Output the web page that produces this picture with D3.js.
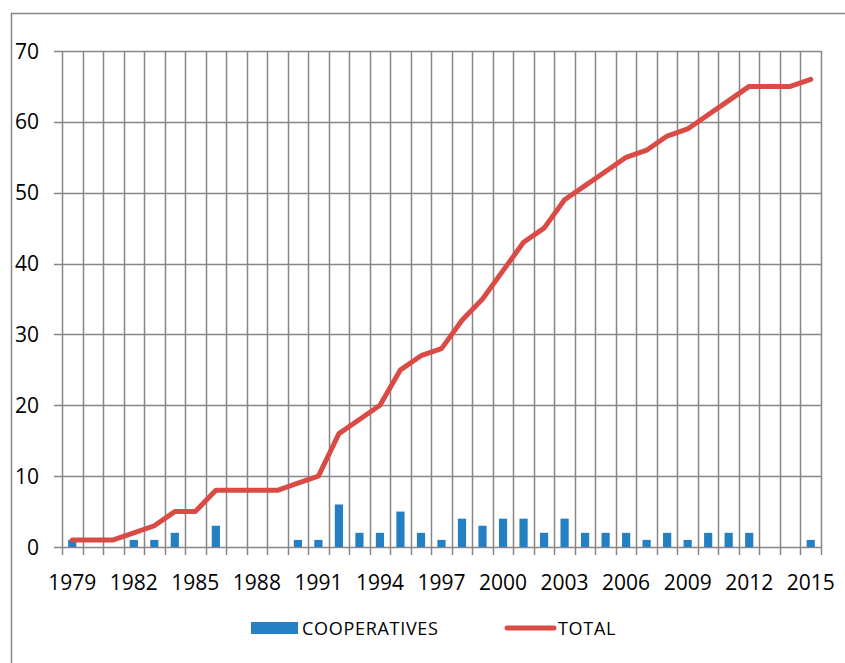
<!DOCTYPE html>
<html>
<head>
<meta charset="utf-8">
<script src="https://cdn.jsdelivr.net/npm/d3@7"></script>
<style>
  body { margin: 0; background: #fff; }
  svg { display: block; font-family: "Open Sans", Lato, sans-serif; }
</style>
</head>
<body>
<svg id="chart" width="845" height="663"></svg>
<script>
// ======================
// Dades
// ======================
const years = d3.range(1979, 2016).map(String);
const cooperatives = [1, 0, 0, 1, 1, 2, 0, 3, 0, 0, 0, 1, 1, 6, 2, 2, 5, 2, 1, 4, 3, 4, 4, 2, 4, 2, 2, 2, 1, 2, 1, 2, 2, 2, 0, 0, 1];
const total = [1, 1, 1, 2, 3, 5, 5, 8, 8, 8, 8, 9, 10, 16, 18, 20, 25, 27, 28, 32, 35, 39, 43, 45, 49, 51, 53, 55, 56, 58, 59, 61, 63, 65, 65, 65, 66];
const yTicks = [0, 10, 20, 30, 40, 50, 60, 70];
const xTickLabels = years.filter((d, i) => i % 3 === 0);

const blue = "#2580c3";
const red = "#db4b45";
const grid = "#868686";

const svg = d3.select("#chart");

// marc exterior
svg.append("rect")
  .attr("x", 11.5)
  .attr("y", 13.5)
  .attr("width", 900)
  .attr("height", 700)
  .attr("fill", "white")
  .attr("stroke", grid)
  .attr("stroke-width", 1.5);

const plotLeft = 62, plotRight = 821, plotTop = 51, plotBottom = 547;

const x = d3.scaleBand()
  .domain(years)
  .range([plotLeft, plotRight])
  .paddingInner(0)
  .paddingOuter(0);

const y = d3.scaleLinear()
  .domain([0, 70])
  .range([plotBottom, plotTop]);

// =========================
// Graella
// =========================
svg.append("g")
  .selectAll("line")
  .data(yTicks)
  .enter()
  .append("line")
  .attr("x1", 54)
  .attr("x2", plotRight)
  .attr("y1", d => Math.round(y(d)) + 0.5)
  .attr("y2", d => Math.round(y(d)) + 0.5)
  .attr("stroke", grid)
  .attr("stroke-width", 1.5);

const bounds = years.map(d => x(d)).concat([plotRight]);

svg.append("g")
  .selectAll("line")
  .data(bounds)
  .enter()
  .append("line")
  .attr("x1", d => Math.round(d) + 0.5)
  .attr("x2", d => Math.round(d) + 0.5)
  .attr("y1", plotTop)
  .attr("y2", plotBottom + 8)
  .attr("stroke", grid)
  .attr("stroke-width", 1.5);

// =========================
// Etiquetes d'eixos
// =========================
svg.append("g")
  .selectAll("text")
  .data(yTicks)
  .enter()
  .append("text")
  .attr("x", 39)
  .attr("y", d => y(d))
  .attr("dy", "0.36em")
  .attr("text-anchor", "end")
  .text(d => d)
  .style("font-size", "21px")
  .style("fill", "#000");

svg.append("g")
  .selectAll("text")
  .data(xTickLabels)
  .enter()
  .append("text")
  .attr("x", d => x(d) + x.bandwidth() / 2)
  .attr("y", 590)
  .attr("text-anchor", "middle")
  .text(d => d)
  .style("font-size", "21px")
  .style("fill", "#000");

// =========================
// Barres
// =========================
const barW = x.bandwidth() / 2.5;

svg.append("g")
  .selectAll("rect")
  .data(years.map((d, i) => ({ year: d, value: cooperatives[i] })).filter(d => d.value > 0))
  .enter()
  .append("rect")
  .attr("x", d => x(d.year) + (x.bandwidth() - barW) / 2)
  .attr("y", d => y(d.value))
  .attr("width", barW)
  .attr("height", d => y(0) - y(d.value))
  .attr("fill", blue);

// =========================
// Línia total
// =========================
const line = d3.line()
  .x((d, i) => x(years[i]) + x.bandwidth() / 2)
  .y(d => y(d));

svg.append("path")
  .datum(total)
  .attr("d", line)
  .attr("fill", "none")
  .attr("stroke", red)
  .attr("stroke-width", 5)
  .attr("stroke-linejoin", "round")
  .attr("stroke-linecap", "round");

// =========================
// Llegenda
// =========================
const legend = svg.append("g");

legend.append("rect")
  .attr("x", 251)
  .attr("y", 622)
  .attr("width", 47)
  .attr("height", 12)
  .attr("fill", blue);

legend.append("text")
  .attr("x", 302)
  .attr("y", 635)
  .text("COOPERATIVES")
  .style("font-size", "18px")
  .style("letter-spacing", "0.7px")
  .style("fill", "#000");

legend.append("line")
  .attr("x1", 507)
  .attr("x2", 554)
  .attr("y1", 628)
  .attr("y2", 628)
  .attr("stroke", red)
  .attr("stroke-width", 5)
  .attr("stroke-linecap", "round");

legend.append("text")
  .attr("x", 558)
  .attr("y", 635)
  .text("TOTAL")
  .style("font-size", "18px")
  .style("letter-spacing", "0.7px")
  .style("fill", "#000");
</script>
</body>
</html>
